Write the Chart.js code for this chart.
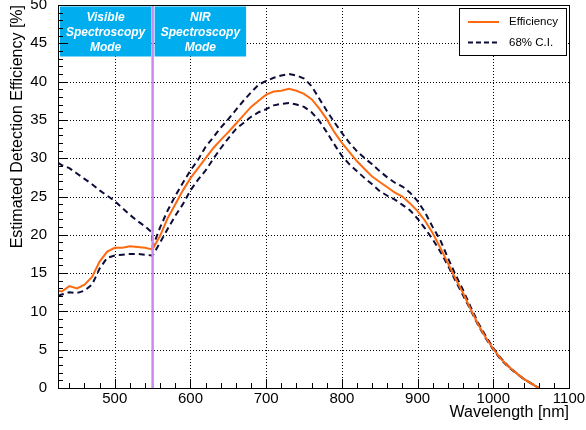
<!DOCTYPE html>
<html>
<head>
<meta charset="utf-8">
<script src="https://cdn.jsdelivr.net/npm/chart.js@4.4.1/dist/chart.umd.min.js"></script>
<style>
html,body{margin:0;padding:0;background:#fff;}
#wrap{width:586px;height:430px;}
</style>
</head>
<body>
<div id="wrap"><canvas id="c" width="586" height="430"></canvas></div>
<script>
const wavelengths = [425,430,440,450,460,470,480,490,500,510,520,530,540,549,550,560,570,580,590,600,610,620,630,640,650,660,670,680,690,700,710,720,730,740,750,760,770,780,790,800,810,820,830,840,850,860,870,880,890,900,910,920,930,940,950,960,970,980,990,1000,1010,1020,1030,1040,1050,1060];
const efficiency = [12.7,12.6,13.3,13.0,13.5,14.5,16.5,17.8,18.3,18.3,18.5,18.4,18.3,18.1,18.1,19.9,22.2,24.0,25.8,27.4,28.7,30.0,31.3,32.4,33.4,34.5,35.6,36.7,37.5,38.3,38.7,38.8,39.05,38.8,38.4,37.7,36.5,35.1,33.4,32.0,30.8,29.6,28.6,27.6,26.9,26.2,25.5,25.0,24.1,23.1,21.8,20.2,18.3,16.3,14.3,12.4,10.3,8.3,6.6,5.1,3.8,2.8,2.0,1.2,0.6,0.0];
const ciUpper = [29.4,29.1,28.7,28.0,27.3,26.6,25.8,25.1,24.4,23.5,22.6,21.8,21.1,20.3,18.4,21.0,23.2,25.1,26.8,28.4,29.8,31.5,32.7,34.0,35.1,36.3,37.5,38.6,39.6,40.1,40.5,40.8,41.0,40.8,40.4,39.4,37.8,36.2,34.7,33.3,32.0,30.9,30.0,29.2,28.3,27.5,26.8,26.3,25.5,24.4,22.9,21.0,19.3,17.0,14.8,12.8,10.6,8.5,6.8,5.2,3.9,2.85,2.0,1.2,0.6,0.0];
const ciLower = [12.05,12.2,12.5,12.4,12.7,13.5,15.6,17.0,17.3,17.4,17.5,17.5,17.4,17.3,17.3,19.0,20.8,22.5,24.0,25.8,27.2,28.4,29.9,31.3,32.6,33.8,34.6,35.4,36.0,36.4,36.9,37.1,37.2,37.0,36.7,36.0,34.9,33.4,31.8,30.3,29.2,28.3,27.4,26.6,25.7,25.1,24.6,23.9,23.2,22.1,20.8,19.4,17.8,16.0,14.0,12.1,10.2,8.2,6.5,5.0,3.7,2.75,1.95,1.2,0.6,0.0];
const xTicks = [500,600,700,800,900,1000,1100];
const yTicks = [0,5,10,15,20,25,30,35,40,45,50];
const modeSplit = 550;
const modeLabels = [["Visible","Spectroscopy","Mode"],["NIR","Spectroscopy","Mode"]];
const legendLabels = ["Efficiency","68% C.I."];

const FONT = "'Liberation Sans', Arial, Helvetica, sans-serif";
const ORANGE = '#ff6a10';
const NAVY = '#0c0c3a';

function pts(ys){ return wavelengths.map((x,i)=>({x:x,y:ys[i]})); }

const overlay = {
  id:'overlay',
  beforeDatasetsDraw(chart){
    const {ctx, chartArea:a, scales:{x,y}} = chart;
    ctx.save();
    ctx.strokeStyle='#000'; ctx.lineWidth=1; ctx.setLineDash([1,2]);
    xTicks.forEach(v=>{ const px=Math.round(x.getPixelForValue(v))+0.5; if(px>a.left+1&&px<a.right-1){ctx.beginPath();ctx.moveTo(px,a.top);ctx.lineTo(px,a.bottom);ctx.stroke();}});
    yTicks.forEach(v=>{ const py=Math.round(y.getPixelForValue(v))+0.5; if(py>a.top+1&&py<a.bottom-1){ctx.beginPath();ctx.moveTo(a.left,py);ctx.lineTo(a.right,py);ctx.stroke();}});
    ctx.restore();
  },
  afterDatasetsDraw(chart){
    const {ctx, chartArea:a, scales:{x,y}} = chart;
    ctx.save();
    // mode boxes
    const sx = x.getPixelForValue(modeSplit);
    const boxes = [[a.left+2, sx-1.5],[sx+2, sx+93.5]];
    boxes.forEach((b,i)=>{
      ctx.fillStyle='#00aeef';
      ctx.fillRect(b[0], a.top+1.5, b[1]-b[0], 50);
      ctx.fillStyle='#fff';
      ctx.font="italic bold 12px "+FONT;
      ctx.textAlign='center'; ctx.textBaseline='middle';
      modeLabels[i].forEach((t,j)=>ctx.fillText(t,(b[0]+b[1])/2, a.top+13+j*15));
    });
    // vertical split line
    ctx.strokeStyle='#cc88f0'; ctx.lineWidth=2.5;
    ctx.beginPath(); ctx.moveTo(sx,a.top); ctx.lineTo(sx,a.bottom); ctx.stroke();
    // legend
    const lx=459.5, ly=8.5, lw=107, lh=47;
    ctx.fillStyle='#fff'; ctx.fillRect(lx,ly,lw,lh);
    ctx.strokeStyle='#000'; ctx.lineWidth=1; ctx.strokeRect(lx,ly,lw,lh);
    ctx.lineWidth=2; ctx.strokeStyle=ORANGE;
    ctx.beginPath(); ctx.moveTo(468,22); ctx.lineTo(499,22); ctx.stroke();
    ctx.strokeStyle=NAVY; ctx.setLineDash([5,3]);
    ctx.beginPath(); ctx.moveTo(468,42.5); ctx.lineTo(500,42.5); ctx.stroke();
    ctx.setLineDash([]);
    ctx.fillStyle='#000'; ctx.font="11.5px "+FONT; ctx.textAlign='left'; ctx.textBaseline='middle';
    ctx.fillText(legendLabels[0],509,22);
    ctx.fillText(legendLabels[1],509,42.5);
    // frame
    ctx.strokeStyle='#000'; ctx.lineWidth=1;
    ctx.strokeRect(Math.round(a.left)+0.5, Math.round(a.top)+0.5, Math.round(a.right-a.left), Math.round(a.bottom-a.top));
    // ticks
    ctx.beginPath();
    for(let v=440; v<=1100; v+=20){
      const px=Math.round(x.getPixelForValue(v))+0.5;
      const len = (v%100===0)?9:5;
      ctx.moveTo(px,a.bottom); ctx.lineTo(px,a.bottom-len);
    }
    for(let v=0; v<=50; v+=1){
      const py=Math.round(y.getPixelForValue(v))+0.5;
      const len = (v%5===0)?10:5;
      ctx.moveTo(a.left,py); ctx.lineTo(a.left+len,py);
    }
    ctx.stroke();
    ctx.restore();
  }
};

new Chart(document.getElementById('c'), {
  type:'line',
  data:{
    datasets:[
      {label:legendLabels[0], data:pts(efficiency), borderColor:ORANGE, borderWidth:2, pointRadius:0, tension:0, fill:false, order:1},
      {label:legendLabels[1], data:pts(ciUpper), borderColor:NAVY, borderWidth:2, borderDash:[6,4], pointRadius:0, tension:0, fill:false, order:2},
      {label:legendLabels[1], data:pts(ciLower), borderColor:NAVY, borderWidth:2, borderDash:[6,4], pointRadius:0, tension:0, fill:false, order:2}
    ]
  },
  options:{
    responsive:false, animation:false, devicePixelRatio:1,
    layout:{padding:{left:0,top:5,right:17,bottom:0}},
    plugins:{legend:{display:false}, tooltip:{enabled:false}},
    scales:{
      x:{type:'linear', min:425, max:1100,
        afterBuildTicks:(s)=>{s.ticks=xTicks.map(v=>({value:v}));},
        afterFit:(s)=>{s.height=42; s.paddingLeft=0; s.paddingRight=0;},
        grid:{display:false, drawTicks:false}, border:{display:false},
        ticks:{color:'#000', font:{family:FONT,size:15}, padding:2, maxRotation:0, autoSkip:false, callback:(v)=>String(v)},
        title:{display:true, text:'Wavelength [nm]', align:'end', color:'#000', font:{family:FONT,size:16}, padding:{top:8,bottom:8}}
      },
      y:{type:'linear', min:0, max:50,
        afterBuildTicks:(s)=>{s.ticks=yTicks.map(v=>({value:v}));},
        afterFit:(s)=>{s.width=58; s.paddingTop=0; s.paddingBottom=0;},
        grid:{display:false, drawTicks:false}, border:{display:false},
        ticks:{color:'#000', font:{family:FONT,size:15}, padding:11, autoSkip:false, callback:(v)=>String(v)},
        title:{display:true, text:'Estimated Detection Efficiency [%]', align:'end', color:'#000', font:{family:FONT,size:16}, padding:{top:8,bottom:8}}
      }
    }
  },
  plugins:[overlay]
});
</script>
</body>
</html>
